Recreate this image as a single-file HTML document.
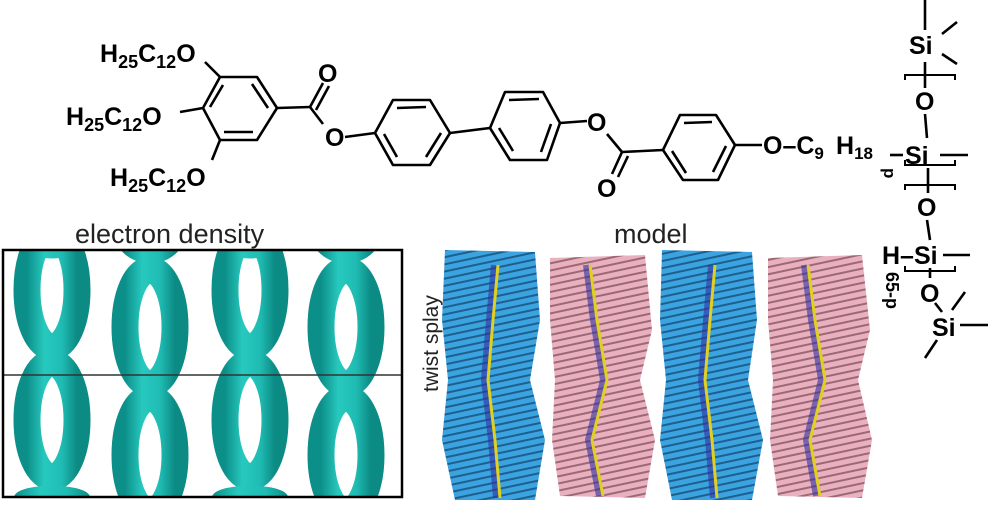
<!DOCTYPE html>
<html><head><meta charset="utf-8"><style>
html,body{margin:0;padding:0;background:#fff;width:992px;height:510px;overflow:hidden;}
svg{display:block;}
text{font-family:"Liberation Sans",sans-serif;}
</style></head><body>
<svg width="992" height="510" viewBox="0 0 992 510" xmlns="http://www.w3.org/2000/svg">
<defs>
<linearGradient id="cy" x1="0" x2="1"><stop offset="0" stop-color="#0c8f89"/><stop offset="0.35" stop-color="#27c9bf"/><stop offset="0.7" stop-color="#1fbcb3"/><stop offset="1" stop-color="#0c8a84"/></linearGradient>
<pattern id="bl" width="12" height="7" patternUnits="userSpaceOnUse" patternTransform="rotate(-12)"><rect width="12" height="7" fill="#3aa3e0"/><rect width="12" height="2" fill="#1e5f8e"/></pattern>
<pattern id="pk" width="12" height="7" patternUnits="userSpaceOnUse" patternTransform="rotate(-12)"><rect width="12" height="7" fill="#eab0c0"/><rect width="12" height="2" fill="#9a6a74"/></pattern>
<clipPath id="bx"><rect x="4" y="251" width="397" height="245"/></clipPath>
</defs>
<g stroke="#000" stroke-width="2.6" fill="none" stroke-linejoin="round">
<polygon points="220,77 257,77 277,108 257,140 220,140 203,108"/>
<line x1="223" y1="85" x2="210" y2="107"/><line x1="224" y1="132" x2="253" y2="132"/><line x1="252" y1="84" x2="268" y2="108"/>
<line x1="205" y1="62" x2="220" y2="77"/><line x1="180" y1="112" x2="203" y2="108"/><line x1="220" y1="140" x2="212" y2="160"/>
<line x1="277" y1="108" x2="310" y2="107"/>
<line x1="310" y1="107" x2="323" y2="83"/><line x1="316" y1="110" x2="329" y2="86"/>
<line x1="310" y1="107" x2="323" y2="124"/>
<line x1="345" y1="137" x2="375" y2="133"/>
<polygon points="393,100 430,100 450,133 430,165 393,165 375,133"/>
<line x1="397" y1="108" x2="426" y2="107"/><line x1="441" y1="133" x2="426" y2="157"/><line x1="384" y1="134" x2="397" y2="157"/>
<line x1="450" y1="133" x2="490" y2="128"/>
<polygon points="505,92 543,92 560,123 547,160 510,160 490,128"/>
<line x1="509" y1="100" x2="539" y2="99"/><line x1="551" y1="124" x2="541" y2="152"/><line x1="499" y1="128" x2="513" y2="151"/>
<line x1="560" y1="123" x2="587" y2="121"/>
<line x1="607" y1="134" x2="622" y2="152"/>
<line x1="622" y1="152" x2="612" y2="174"/><line x1="628" y1="156" x2="618" y2="177"/>
<line x1="622" y1="152" x2="663" y2="150"/>
<polygon points="680,115 716,115 735,145 718,180 683,180 663,150"/>
<line x1="684" y1="123" x2="712" y2="122"/><line x1="726" y1="146" x2="713" y2="172"/><line x1="672" y1="151" x2="686" y2="173"/>
<line x1="735" y1="145" x2="762" y2="145"/>
<line x1="925" y1="0" x2="925" y2="30"/>
<line x1="942" y1="34" x2="957" y2="22"/><line x1="942" y1="54" x2="957" y2="64"/>
<line x1="925" y1="62" x2="925" y2="88"/>
<line x1="925" y1="114" x2="927" y2="138"/>
<line x1="890" y1="155" x2="903" y2="155"/><line x1="940" y1="155" x2="968" y2="155"/>
<line x1="928" y1="168" x2="928" y2="193"/>
<line x1="927" y1="220" x2="930" y2="240"/>
<line x1="943" y1="255" x2="970" y2="255"/>
<line x1="930" y1="268" x2="930" y2="278"/>
<line x1="935" y1="303" x2="942" y2="312"/>
<line x1="960" y1="325" x2="988" y2="325"/>
<line x1="952" y1="310" x2="965" y2="292"/>
<line x1="937" y1="340" x2="925" y2="358"/>
</g>
<g stroke="#000" stroke-width="2" fill="none">
<path d="M905,80 L905,75 L955,75 L955,80"/>
<path d="M905,160 L905,165 L955,165 L955,160"/>
<path d="M905,190 L905,185 L955,185 L955,190"/>
<path d="M905,266 L905,271 L955,271 L955,266"/>
</g>
<g font-weight="bold" font-size="25" fill="#000">
<text x="100" y="62">H<tspan font-size="18" dy="6">25</tspan><tspan dy="-6">C</tspan><tspan font-size="18" dy="6">12</tspan><tspan dy="-6">O</tspan></text>
<text x="66" y="125">H<tspan font-size="18" dy="6">25</tspan><tspan dy="-6">C</tspan><tspan font-size="18" dy="6">12</tspan><tspan dy="-6">O</tspan></text>
<text x="110" y="186">H<tspan font-size="18" dy="6">25</tspan><tspan dy="-6">C</tspan><tspan font-size="18" dy="6">12</tspan><tspan dy="-6">O</tspan></text>
<text x="318" y="82">O</text><text x="325" y="146">O</text>
<text x="587" y="131">O</text><text x="597" y="197">O</text>
<text x="763" y="154">O–C<tspan font-size="17" dy="5">9</tspan></text>
<text x="836" y="154">H<tspan font-size="17" dy="5">18</tspan></text>
<text x="909" y="54">Si</text><text x="915" y="110">O</text>
<text x="905" y="164">Si</text><text x="917" y="216">O</text>
<text x="882" y="264">H–Si</text><text x="920" y="302">O</text>
<text x="932" y="336">Si</text>
<text x="884" y="168" font-size="17" transform="rotate(90 884 168)">p</text>
<text x="886" y="272" font-size="18" transform="rotate(90 886 272)">65-p</text>
</g>
<text x="75" y="243" font-size="27" fill="#222">electron density</text>
<text x="614" y="243" font-size="27" fill="#222">model</text>
<text x="438" y="392" font-size="21" fill="#222" transform="rotate(-90 438 392)">twist  splay</text>
<g clip-path="url(#bx)">
<g fill="none" stroke="url(#cy)" stroke-width="27">
<g transform="translate(52,0)"><ellipse cx="0" cy="225" rx="25" ry="20"/><ellipse cx="0" cy="290" rx="25" ry="57"/><ellipse cx="0" cy="420" rx="25" ry="57"/></g>
<g transform="translate(150,0)"><ellipse cx="0" cy="225" rx="25" ry="25"/><ellipse cx="0" cy="327" rx="25" ry="57"/><ellipse cx="0" cy="455" rx="25" ry="57"/></g>
<g transform="translate(250,0)"><ellipse cx="0" cy="225" rx="25" ry="20"/><ellipse cx="0" cy="290" rx="25" ry="57"/><ellipse cx="0" cy="420" rx="25" ry="57"/></g>
<g transform="translate(346,0)"><ellipse cx="0" cy="225" rx="25" ry="25"/><ellipse cx="0" cy="327" rx="25" ry="57"/><ellipse cx="0" cy="455" rx="25" ry="57"/></g>
</g>
<g fill="url(#cy)">
<path d="M14,497 C16,482 88,482 90,497 Z"/>
<path d="M212,497 C214,482 286,482 288,497 Z"/>
</g>
</g>
<line x1="3" y1="375" x2="402" y2="375" stroke="#333" stroke-width="1.5"/>
<rect x="3" y="250" width="399" height="247" fill="none" stroke="#000" stroke-width="2.5"/>
<g>
<path d="M445,250 L535,252 L540,320 L530,380 L545,440 L535,500 L455,500 L442,440 L448,380 L442,320 Z" fill="url(#bl)"/>
<path d="M550,258 L645,255 L652,330 L640,380 L655,440 L645,498 L560,496 L552,440 L555,380 L550,320 Z" fill="url(#pk)"/>
<path d="M662,250 L752,252 L757,320 L748,380 L763,440 L752,500 L672,500 L660,440 L666,380 L660,320 Z" fill="url(#bl)"/>
<path d="M768,258 L862,255 L870,330 L858,380 L872,440 L862,498 L778,496 L770,440 L773,380 L768,320 Z" fill="url(#pk)"/>
<g stroke="#3030a0" stroke-width="6" fill="none" opacity="0.6">
<path d="M494,265 L489,320 L484,380 L491,440 L496,498"/>
<path d="M586,265 L593,320 L603,380 L588,440 L599,496"/>
<path d="M711,265 L706,320 L701,380 L708,440 L713,498"/>
<path d="M804,265 L811,320 L821,380 L806,440 L816,496"/>
</g>
<g stroke="#e0d020" stroke-width="3" fill="none">
<path d="M498,265 L493,320 L488,380 L495,440 L500,498"/>
<path d="M590,265 L597,320 L607,380 L592,440 L603,496"/>
<path d="M715,265 L710,320 L705,380 L712,440 L717,498"/>
<path d="M808,265 L815,320 L825,380 L810,440 L820,496"/>
</g>
</g>
</svg>
</body></html>
